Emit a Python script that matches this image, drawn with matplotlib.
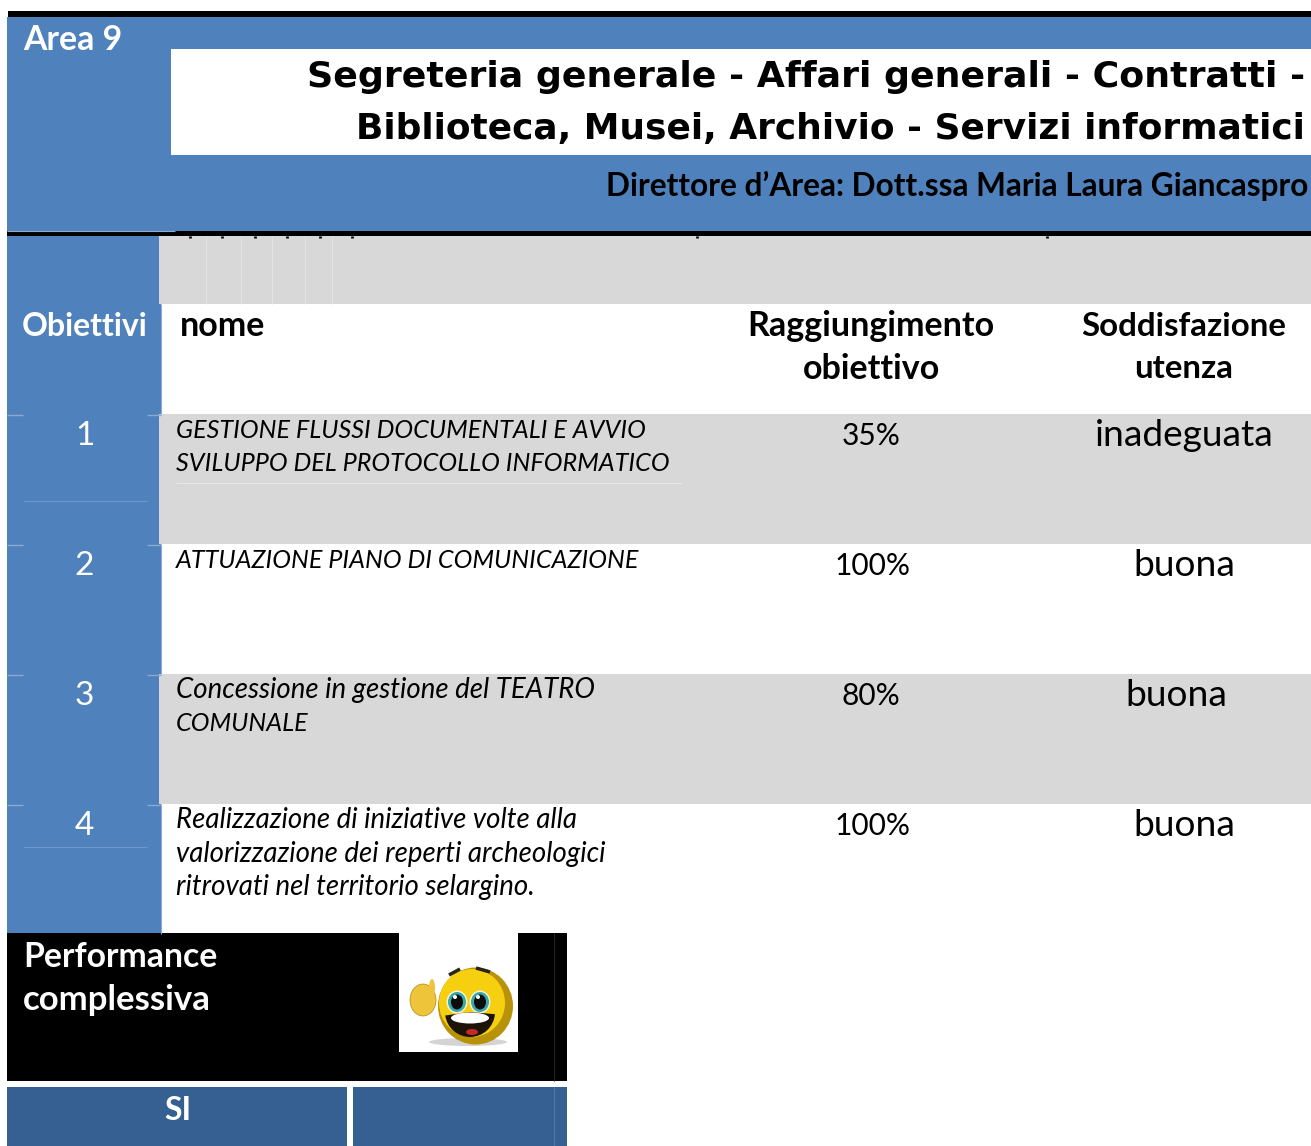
import matplotlib
matplotlib.use("Agg")
import matplotlib.pyplot as plt
from matplotlib.patches import Rectangle, Ellipse, Wedge

# -----------------------------
# DATA
# -----------------------------
area_label = "Area 9"
title_lines = ["Segreteria generale - Affari generali - Contratti -",
               "Biblioteca, Musei, Archivio - Servizi informatici"]
director = "Direttore d’Area: Dott.ssa Maria Laura Giancaspro"
header_ob = "Obiettivi"
header_name = "nome"
header_reached = ["Raggiungimento", "obiettivo"]
header_satisf = ["Soddisfazione", "utenza"]
obj_ids = ["1", "2", "3", "4"]
obj_names = [
    ["GESTIONE FLUSSI DOCUMENTALI E AVVIO", "SVILUPPO DEL PROTOCOLLO INFORMATICO"],
    ["ATTUAZIONE PIANO DI COMUNICAZIONE"],
    ["Concessione in gestione del TEATRO", "COMUNALE"],
    ["Realizzazione di iniziative volte alla", "valorizzazione dei reperti archeologici",
     "ritrovati nel territorio selargino."],
]
obj_reached = ["35%", "100%", "80%", "100%"]
obj_satisf = ["inadeguata", "buona", "buona", "buona"]
perf_lines = ["Performance", "complessiva"]
perf_answer = "SI"

# -----------------------------
# STYLE
# -----------------------------
BLUE = "#4f81bd"
DARK_BLUE = "#366092"
GREY = "#d8d8d8"
LIGHT_RULE = "#8aaad2"
FONT = "Lato"

fig = plt.figure(figsize=(13.11, 11.46), dpi=100)
ax = fig.add_axes([0, 0, 1, 1])
ax.set_xlim(0, 1311)
ax.set_ylim(1146, 0)
ax.axis("off")


def box(x0, y0, x1, y1, color, z=1):
    ax.add_patch(Rectangle((x0, y0), x1 - x0, y1 - y0, fc=color, ec="none", zorder=z))


def rule(x0, y0, x1, y1, color, lw=0.8, z=3):
    ax.plot([x0, x1], [y0, y1], color=color, lw=lw, zorder=z, solid_capstyle="butt")


def put(x, y, s, size, color="black", ha="left", weight="normal", style="normal", family=FONT):
    ax.text(x, y, s, fontsize=size, color=color, ha=ha, va="center", fontweight=weight,
            fontstyle=style, family=family, zorder=5)


# -----------------------------
# HEADER BAND
# -----------------------------
box(8, 11, 1311, 17, "black")
box(7, 17, 1311, 231, BLUE)
box(171, 49, 1311, 155, "white", 2)
box(7, 231, 1311, 236, "black")
rule(7, 230.5, 175, 230.5, LIGHT_RULE)
put(23, 40, area_label, 24.3, "white", weight="bold")
put(1305, 77, title_lines[0], 26.2, ha="right", weight="bold", family="DejaVu Sans")
put(1305, 129, title_lines[1], 25.9, ha="right", weight="bold", family="DejaVu Sans")
put(1308, 186, director, 22.8, ha="right", weight="bold")

# -----------------------------
# TABLE
# -----------------------------
box(7, 236, 159, 304, BLUE)
box(159, 236, 1311, 304, GREY)
for xp in [206, 241, 272, 305, 332]:
    rule(xp, 236, xp, 304, "#e4e4e4", z=2)
for xp in [190, 222, 255, 287, 320, 352, 697, 1047]:
    rule(xp, 236, xp, 238, "black", lw=2, z=2)
box(7, 304, 161, 934, BLUE)
rule(160.5, 304, 160.5, 414, LIGHT_RULE, z=2)
rule(160.5, 544, 160.5, 674, LIGHT_RULE, z=2)
rule(160.5, 804, 160.5, 934, LIGHT_RULE, z=2)

put(85, 326, header_ob, 23, "white", ha="center", weight="bold")
put(180, 326, header_name, 24.5, weight="bold")
put(871, 326, header_reached[0], 24.5, ha="center", weight="bold")
put(871, 369, header_reached[1], 24.5, ha="center", weight="bold")
put(1184, 326, header_satisf[0], 23.8, ha="center", weight="bold")
put(1184, 369, header_satisf[1], 23.8, ha="center", weight="bold")

row_tops = [414, 544, 674, 804]
row_bottoms = [544, 674, 804, 934]
reached_x = [871, 873, 871, 873]
satisf_x = [1184, 1184, 1176, 1184]
for i in range(len(obj_ids)):
    top = row_tops[i]
    if i % 2 == 0:
        box(159, top, 1311, row_bottoms[i], GREY)
    rule(7, top + 0.5, 23, top + 0.5, LIGHT_RULE, lw=1)
    rule(147, top + 0.5, 161, top + 0.5, LIGHT_RULE, lw=1)
    put(84.5, top + 22, obj_ids[i], 24, "white", ha="center")
    for j, line in enumerate(obj_names[i]):
        name_size = 18.1 if line.isupper() else 19.9
        put(176, top + 16 + j * 33.7, line, name_size, style="italic")
    put(reached_x[i], top + 22, obj_reached[i], 21.5, ha="center")
    put(satisf_x[i], top + 22, obj_satisf[i], 26.7, ha="center")
rule(23, 501, 147, 501, "#6f97c9")
rule(176, 482.5, 682, 482.5, "#e6e6e6")
rule(23, 847, 147, 847, "#6f97c9")

# -----------------------------
# PERFORMANCE BLOCK
# -----------------------------
box(7, 933, 567, 1081, "black")
box(399, 933, 518, 1052, "white", 2)
box(7, 1087, 347, 1146, DARK_BLUE)
box(353, 1087, 567, 1146, DARK_BLUE)
rule(553.5, 933, 553.5, 1081, "#222222", z=2)
rule(553.5, 1087, 553.5, 1146, "#4f78a8", z=2)
put(23, 957, perf_lines[0], 24.3, "white", weight="bold")
put(23, 1000, perf_lines[1], 25, "white", weight="bold")
put(178, 1110, perf_answer, 23, "white", ha="center", weight="bold")

# smiley
ax.add_patch(Ellipse((468, 1042), 78, 8, fc="#d4d4d4", ec="none", zorder=3))
ax.add_patch(Ellipse((423, 1000), 26, 32, fc="#eec53a", ec="#b08a10", lw=0.5, zorder=3))
ax.add_patch(Ellipse((432, 988), 6, 18, fc="#eec53a", ec="none", zorder=3))
ax.add_patch(Ellipse((475.5, 1006), 75, 77, fc="#b89208", ec="none", zorder=4))
ax.add_patch(Ellipse((472, 1003), 66, 68, fc="#f5cf10", ec="none", zorder=4))
for ex in [457, 480]:
    ax.add_patch(Ellipse((ex, 1002), 21, 23, fc="#f8f4d0", ec="none", zorder=5))
    ax.add_patch(Ellipse((ex, 1002), 18, 20, fc="#38a8ac", ec="none", zorder=6))
    ax.add_patch(Ellipse((ex, 1002), 12, 15, fc="#0c0c0c", ec="none", zorder=7))
    ax.add_patch(Ellipse((ex - 2, 997), 4, 4, fc="white", ec="none", zorder=8))
ax.add_patch(Wedge((470, 1012), 25, 5, 172, fc="#1c1408", ec="none", zorder=6))
ax.add_patch(Ellipse((470, 1018), 38, 11, fc="white", ec="none", zorder=7))
ax.add_patch(Ellipse((472, 1032), 12, 6, fc="#c8282a", ec="none", zorder=8))
rule(449, 975, 460, 969, "#2a2416", lw=2.5, z=6)
rule(476, 968, 490, 972, "#2a2416", lw=2.5, z=6)

fig.savefig("out.png", dpi=100)
